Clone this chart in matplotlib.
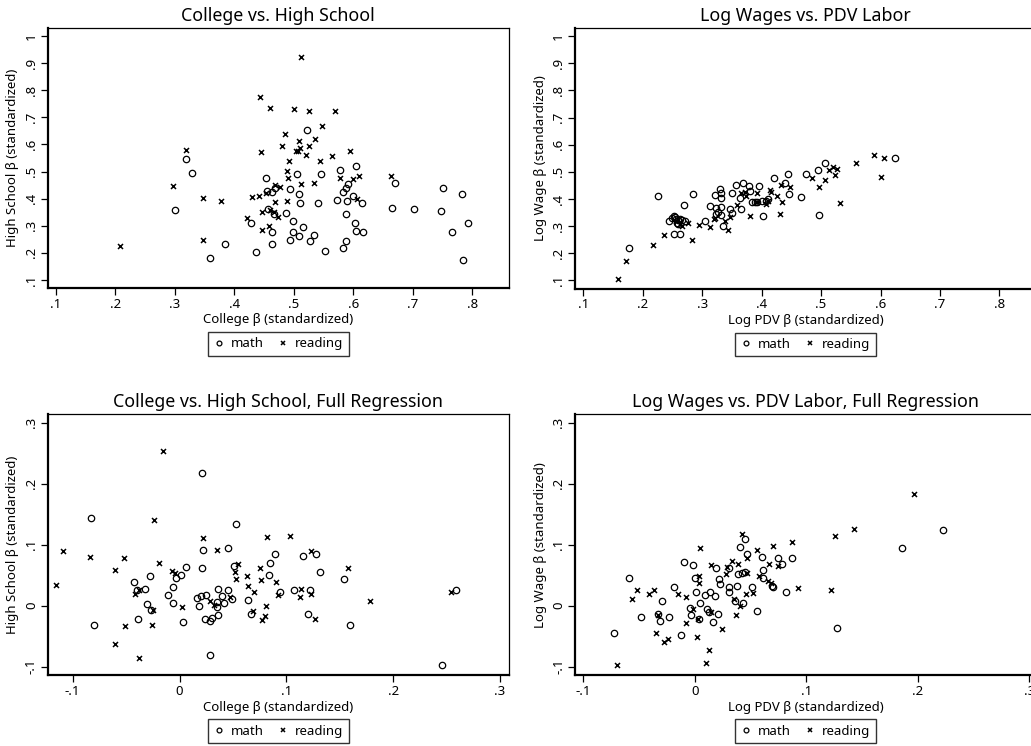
import matplotlib
matplotlib.use("Agg")
import matplotlib.pyplot as plt
import numpy as np

plt.rcParams['font.family'] = ['Noto Sans', 'DejaVu Sans']

# ---------------- Panel 1: College vs. High School ----------------
p1_math_x = [.300, .318, .329, .359, .385, .428, .437, .453, .455, .456, .463, .464, .464, .466, .469,
             .487, .493, .493, .498, .499, .506, .509, .510, .508, .515, .522, .527, .534, .540, .545,
             .553, .573, .578, .583, .583, .587, .587, .588, .590, .592, .600, .603, .604, .605, .614,
             .617, .665, .671, .702, .747, .751, .766, .783, .784, .793]
p1_math_y = [.357, .548, .495, .180, .234, .311, .202, .475, .429, .363, .426, .276, .232, .342, .438,
             .348, .434, .248, .318, .277, .492, .416, .384, .261, .296, .655, .245, .265, .383, .492,
             .206, .394, .506, .423, .217, .438, .342, .243, .390, .453, .409, .309, .282, .520, .384,
             .277, .366, .459, .361, .353, .438, .275, .416, .175, .310]
p1_read_x = [.207, .297, .318, .348, .347, .377, .422, .430, .441, .443, .444, .446, .446, .460, .458,
             .453, .469, .469, .473, .477, .480, .486, .489, .490, .489, .492, .501, .503, .507, .509,
             .511, .512, .512, .521, .525, .526, .534, .535, .544, .548, .564, .569, .577, .594, .600,
             .606, .610, .664, .460, .466]
p1_read_y = [.225, .447, .580, .402, .248, .390, .330, .405, .408, .776, .572, .350, .285, .733, .300,
             .420, .450, .389, .331, .442, .596, .637, .503, .475, .391, .540, .732, .576, .576, .611,
             .587, .453, .924, .562, .723, .596, .459, .619, .539, .668, .559, .722, .477, .577, .471,
             .399, .485, .484, .358, .352]

# ---------------- Panel 2: Log Wages vs. PDV Labor ----------------
p2_math_x = [.177, .225, .244, .249, .253, .252, .262, .254, .256, .260, .263, .266, .258, .260, .270,
             .271, .285, .305, .313, .321, .330, .331, .331, .324, .327, .323, .331, .332, .335, .346,
             .350, .350, .357, .366, .363, .368, .379, .380, .383, .388, .392, .396, .403, .401, .408,
             .411, .421, .439, .445, .446, .466, .475, .495, .496, .507, .625]
p2_math_y = [.220, .410, .320, .331, .339, .270, .270, .334, .327, .321, .325, .321, .312, .308, .379,
             .319, .417, .320, .374, .413, .438, .422, .404, .368, .353, .345, .369, .342, .300, .364,
             .350, .422, .452, .364, .403, .458, .449, .431, .390, .390, .390, .449, .337, .394, .394,
             .398, .477, .459, .493, .417, .409, .493, .508, .341, .533, .550]
p2_read_x = [.159, .172, .218, .235, .256, .262, .266, .276, .283, .295, .313, .319, .321, .338, .344,
             .347, .359, .365, .372, .374, .380, .393, .392, .407, .414, .416, .425, .431, .433, .434,
             .448, .485, .496, .507, .514, .520, .524, .527, .532, .559, .589, .600, .606, .410]
p2_read_y = [.106, .172, .232, .267, .318, .306, .300, .311, .249, .304, .297, .326, .328, .319, .287,
             .332, .378, .422, .425, .410, .337, .422, .390, .383, .434, .426, .410, .343, .453, .387,
             .444, .477, .444, .471, .506, .518, .490, .509, .384, .533, .563, .481, .551, .392]

# ---------------- Panel 3: College vs. High School, Full Regression ----------------
p3_math_x = [-.083, -.080, -.043, -.040, -.039, -.032, -.030, -.028, -.027, -.011, -.006, -.006, -.003,
             .001, .003, .006, .016, .018, .020, .021, .021, .022, .024, .025, .029, .030, .029, .035,
             .035, .036, .036, .040, .042, .045, .045, .049, .051, .053, .064, .067, .084, .085, .089,
             .094, .107, .116, .120, .122, .128, .132, .154, .160, .246, .259]
p3_math_y = [.143, -.032, .039, .025, -.022, .027, .003, .048, -.007, .017, .031, .005, .046,
             .050, -.027, .063, .012, -.001, .016, .217, .062, .091, -.021, .017, -.025, -.020, -.080, .006,
             -.002, -.016, .027, .016, .005, .095, .025, .011, .065, .134, .009, -.014, .051, .070, .084,
             .023, .025, .082, -.013, .026, .084, .055, .043, -.032, -.098, .025]
p3_read_x = [-.116, -.109, -.084, -.060, -.060, -.052, -.051, -.042, -.038, -.038, -.026, -.025, -.024,
             -.019, -.015, -.007, -.004, .002, .022, .029, .032, .035, .047, .052, .053, .055, .063,
             .064, .069, .070, .075, .076, .077, .080, .081, .082, .090, .092, .103, .113, .114, .123,
             .123, .127, .158, .178, .254]
p3_read_y = [.034, .089, .080, .058, -.062, .078, -.034, .020, .026, -.086, -.032, -.007, .140,
             .070, .254, .057, .053, -.002, .111, .007, .001, .092, .014, .055, .044, .068, .048,
             .032, -.008, .022, .061, .042, -.024, -.017, .000, .113, .039, .017, .115, .015, .028, .090,
             .020, -.021, .061, .008, .022]

# ---------------- Panel 4: Log Wages vs. PDV Labor, Full Regression ----------------
p4_math_x = [-.072, -.059, -.048, -.033, -.031, -.029, -.023, -.019, -.012, -.010, -.004, -.003, -.002,
             .000, .001, .005, .004, .009, .011, .013, .014, .016, .018, .019, .021, .022, .023, .031,
             .031, .031, .036, .038, .039, .041, .042, .043, .045, .045, .047, .051, .056, .060, .061,
             .061, .069, .070, .075, .078, .082, .087, .128, .186, .223]
p4_math_y = [-.045, .046, -.019, -.013, -.025, .008, -.019, .031, -.048, .071, -.003, -.016, .067,
             .046, .022, .005, -.021, .017, -.006, -.010, .022, -.027, .016, .061, -.014, .043, .036, .061,
             .030, .022, .007, .033, .052, .097, .053, .004, .055, .109, .085, .031, -.009, .080, .058,
             .046, .033, .031, .079, .068, .022, .078, -.036, .094, .124]
p4_read_x = [-.070, -.056, -.052, -.041, -.037, -.035, -.033, -.028, -.024, -.015, -.008, -.008, -.002,
             .002, .003, .004, .004, .005, .010, .013, .015, .015, .024, .028, .029, .033, .035, .037,
             .039, .041, .042, .046, .047, .047, .052, .056, .058, .066, .067, .068, .070, .075, .087,
             .093, .122, .126, .143, .197]
p4_read_y = [-.098, .011, .025, .020, .025, -.045, -.016, -.059, -.055, .020, .014, -.029, -.005,
             -.051, -.021, .049, .037, .095, -.094, -.072, .067, -.010, -.039, .052, .064, .073, .011, -.015,
             .069, .000, .117, .020, .053, .078, .021, .092, .048, .040, .068, .037, .098, .065, .104,
             .029, .025, .115, .126, .183]

titles = ["College vs. High School", "Log Wages vs. PDV Labor",
          "College vs. High School, Full Regression", "Log Wages vs. PDV Labor, Full Regression"]
xlabels = ["College \u03b2 (standardized)", "Log PDV \u03b2 (standardized)",
           "College \u03b2 (standardized)", "Log PDV \u03b2 (standardized)"]
ylabels = ["High School \u03b2 (standardized)", "Log Wage \u03b2 (standardized)",
           "High School \u03b2 (standardized)", "Log Wage \u03b2 (standardized)"]
series_labels = ["math", "reading"]

top_ticks = [.1, .2, .3, .4, .5, .6, .7, .8, .9, 1.0]
top_ticklabels = [".1", ".2", ".3", ".4", ".5", ".6", ".7", ".8", ".9", "1"]
top_xticks = [.1, .2, .3, .4, .5, .6, .7, .8]
top_xticklabels = [".1", ".2", ".3", ".4", ".5", ".6", ".7", ".8"]
bot_ticks = [-.1, 0, .1, .2, .3]
bot_ticklabels = ["-.1", "0", ".1", ".2", ".3"]

W, H = 1031, 746
fig = plt.figure(figsize=(W / 100, H / 100), dpi=100)

def px_axes(left, top, right, bottom):
    return fig.add_axes([left / W, 1 - bottom / H, (right - left) / W, (bottom - top) / H])

panels = [
    (px_axes(47.7, 28, 509, 288), p1_math_x, p1_math_y, p1_read_x, p1_read_y,
     (0.086, 0.862), (0.07, 1.03), top_xticks, top_xticklabels, top_ticks, top_ticklabels),
    (px_axes(575, 28, 1036.3, 288.5), p2_math_x, p2_math_y, p2_read_x, p2_read_y,
     (0.086, 0.862), (0.07, 1.03), top_xticks, top_xticklabels, top_ticks, top_ticklabels),
    (px_axes(47.7, 414.3, 509, 675), p3_math_x, p3_math_y, p3_read_x, p3_read_y,
     (-0.1234, 0.3085), (-0.1136, 0.3138), bot_ticks, bot_ticklabels, bot_ticks, bot_ticklabels),
    (px_axes(575, 414.3, 1036.3, 675), p4_math_x, p4_math_y, p4_read_x, p4_read_y,
     (-0.1074, 0.3063), (-0.1136, 0.3138), bot_ticks, bot_ticklabels, bot_ticks, bot_ticklabels),
]

for i, (ax, mx, my, rx, ry, xl, yl, xt, xtl, yt, ytl) in enumerate(panels):
    ax.plot(mx, my, linestyle='none', marker='o', markersize=4.6, markerfacecolor='none',
            markeredgecolor='black', markeredgewidth=0.9, label=series_labels[0])
    ax.plot(rx, ry, linestyle='none', marker='x', markersize=3.6, color='black',
            markeredgewidth=1.1, label=series_labels[1])
    ax.set_xlim(*xl)
    ax.set_ylim(*yl)
    ax.set_xticks(xt)
    ax.set_xticklabels(xtl)
    ax.set_yticks(yt)
    ax.set_yticklabels(ytl, rotation=90, va='center')
    ax.tick_params(axis='both', direction='out', length=5, width=0.9, labelsize=9.5, pad=2)
    for s in ['top', 'right']:
        ax.spines[s].set_linewidth(0.9)
    for s in ['left', 'bottom']:
        ax.spines[s].set_linewidth(1.6)
    ax.set_title(titles[i], fontsize=12.8, pad=5)
    ax.set_xlabel(xlabels[i], fontsize=9.5, labelpad=2)
    ax.set_ylabel(ylabels[i], fontsize=9.5, labelpad=4)
    leg = ax.legend(loc='center', bbox_to_anchor=(0.5, -0.215), ncol=2, fontsize=9.5,
                    frameon=True, fancybox=False, edgecolor='black', markerscale=0.75,
                    handlelength=0.8, handletextpad=0.5, columnspacing=1.1,
                    borderpad=0.4, borderaxespad=0)
    leg.get_frame().set_linewidth(1.0)

fig.savefig("out.png", dpi=100, facecolor='white')
